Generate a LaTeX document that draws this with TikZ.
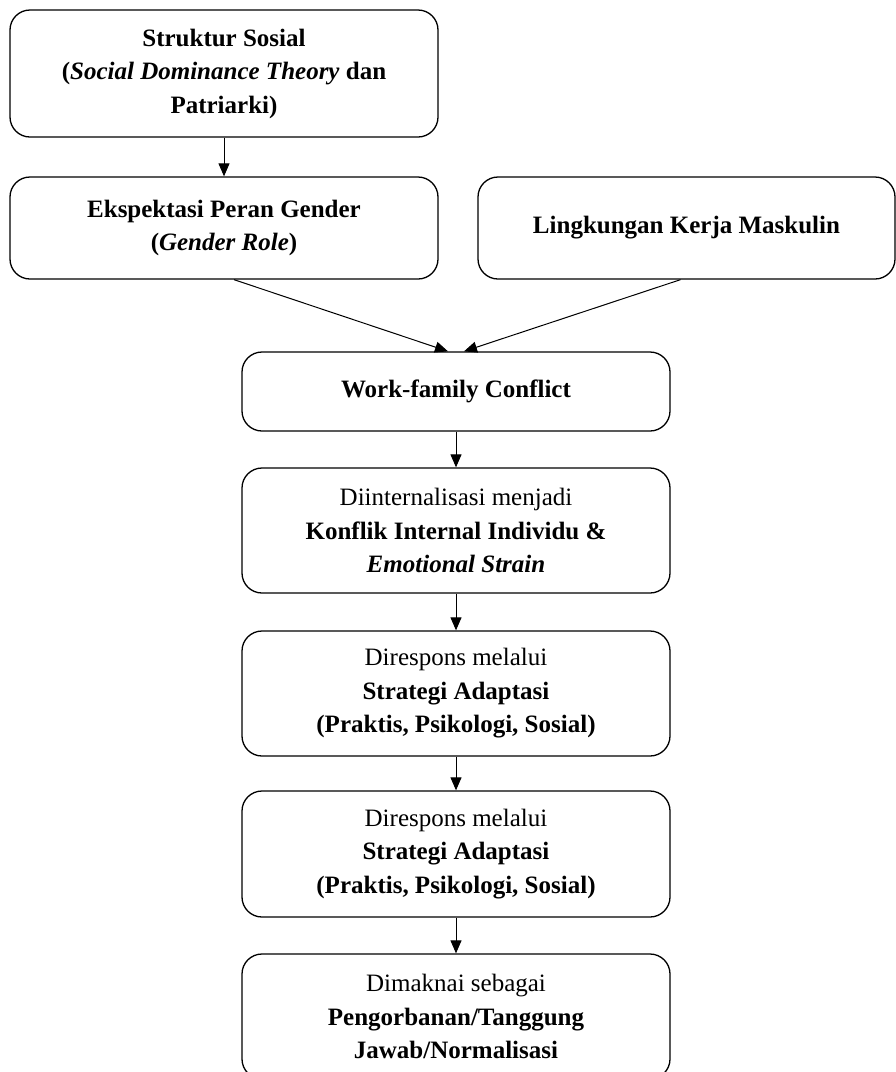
\documentclass[tikz,border=0pt]{standalone}
\usepackage{fontspec}
\setmainfont{Liberation Serif}
\usetikzlibrary{arrows.meta}

\tikzset{
  kotak/.style={draw, rounded corners=20pt, line width=1.3pt, align=center, inner sep=0pt,
    font=\fontsize{25}{33.5}\selectfont},
  panah/.style={-{Triangle[length=13pt,width=11pt]}, line width=1pt}
}

\begin{document}
\begin{tikzpicture}[x=1pt,y=-1pt]
\useasboundingbox (0,0) rectangle (896,1072);

\node[kotak, minimum width=428pt, minimum height=127pt] (struktur) at (224,73.5)
  {\textbf{Struktur Sosial}\\\textbf{(\textit{Social Dominance Theory} dan}\\\textbf{Patriarki)}};
\node[kotak, minimum width=428pt, minimum height=102pt] (peran) at (224,228)
  {\textbf{Ekspektasi Peran Gender}\\\textbf{(\textit{Gender Role})}};
\node[kotak, minimum width=417pt, minimum height=102pt] (lingkungan) at (686.5,228)
  {\textbf{Lingkungan Kerja Maskulin}};

\node[kotak, minimum width=428pt, minimum height=79pt] (wfc) at (456,391.5)
  {\textbf{Work-family Conflict}};
\node[kotak, minimum width=428pt, minimum height=125pt] (internal) at (456,530.5)
  {Diinternalisasi menjadi\\\textbf{Konflik Internal Individu \&}\\\textbf{\textit{Emotional Strain}}};
\node[kotak, minimum width=428pt, minimum height=125pt] (adaptasi) at (456,693.5)
  {Direspons melalui\\\textbf{Strategi Adaptasi}\\\textbf{(Praktis, Psikologi, Sosial)}};
\node[kotak, minimum width=428pt, minimum height=126pt] (adaptasi2) at (456,854)
  {Direspons melalui\\\textbf{Strategi Adaptasi}\\\textbf{(Praktis, Psikologi, Sosial)}};
\node[kotak, minimum width=428pt, minimum height=125pt] (makna) at (456,1016.5)
  {Dimaknai sebagai\\\textbf{Pengorbanan/Tanggung}\\\textbf{Jawab/Normalisasi}};

\draw[panah] (struktur) -- (peran);
\draw[panah] ([xshift=10pt]peran.south) -- ([xshift=-8pt]wfc.north);
\draw[panah] ([xshift=-6pt]lingkungan.south) -- ([xshift=8pt]wfc.north);
\draw[panah] (wfc) -- (internal);
\draw[panah] (internal) -- (adaptasi);
\draw[panah] (adaptasi) -- (adaptasi2);
\draw[panah] (adaptasi2) -- (makna);

\end{tikzpicture}
\end{document}
